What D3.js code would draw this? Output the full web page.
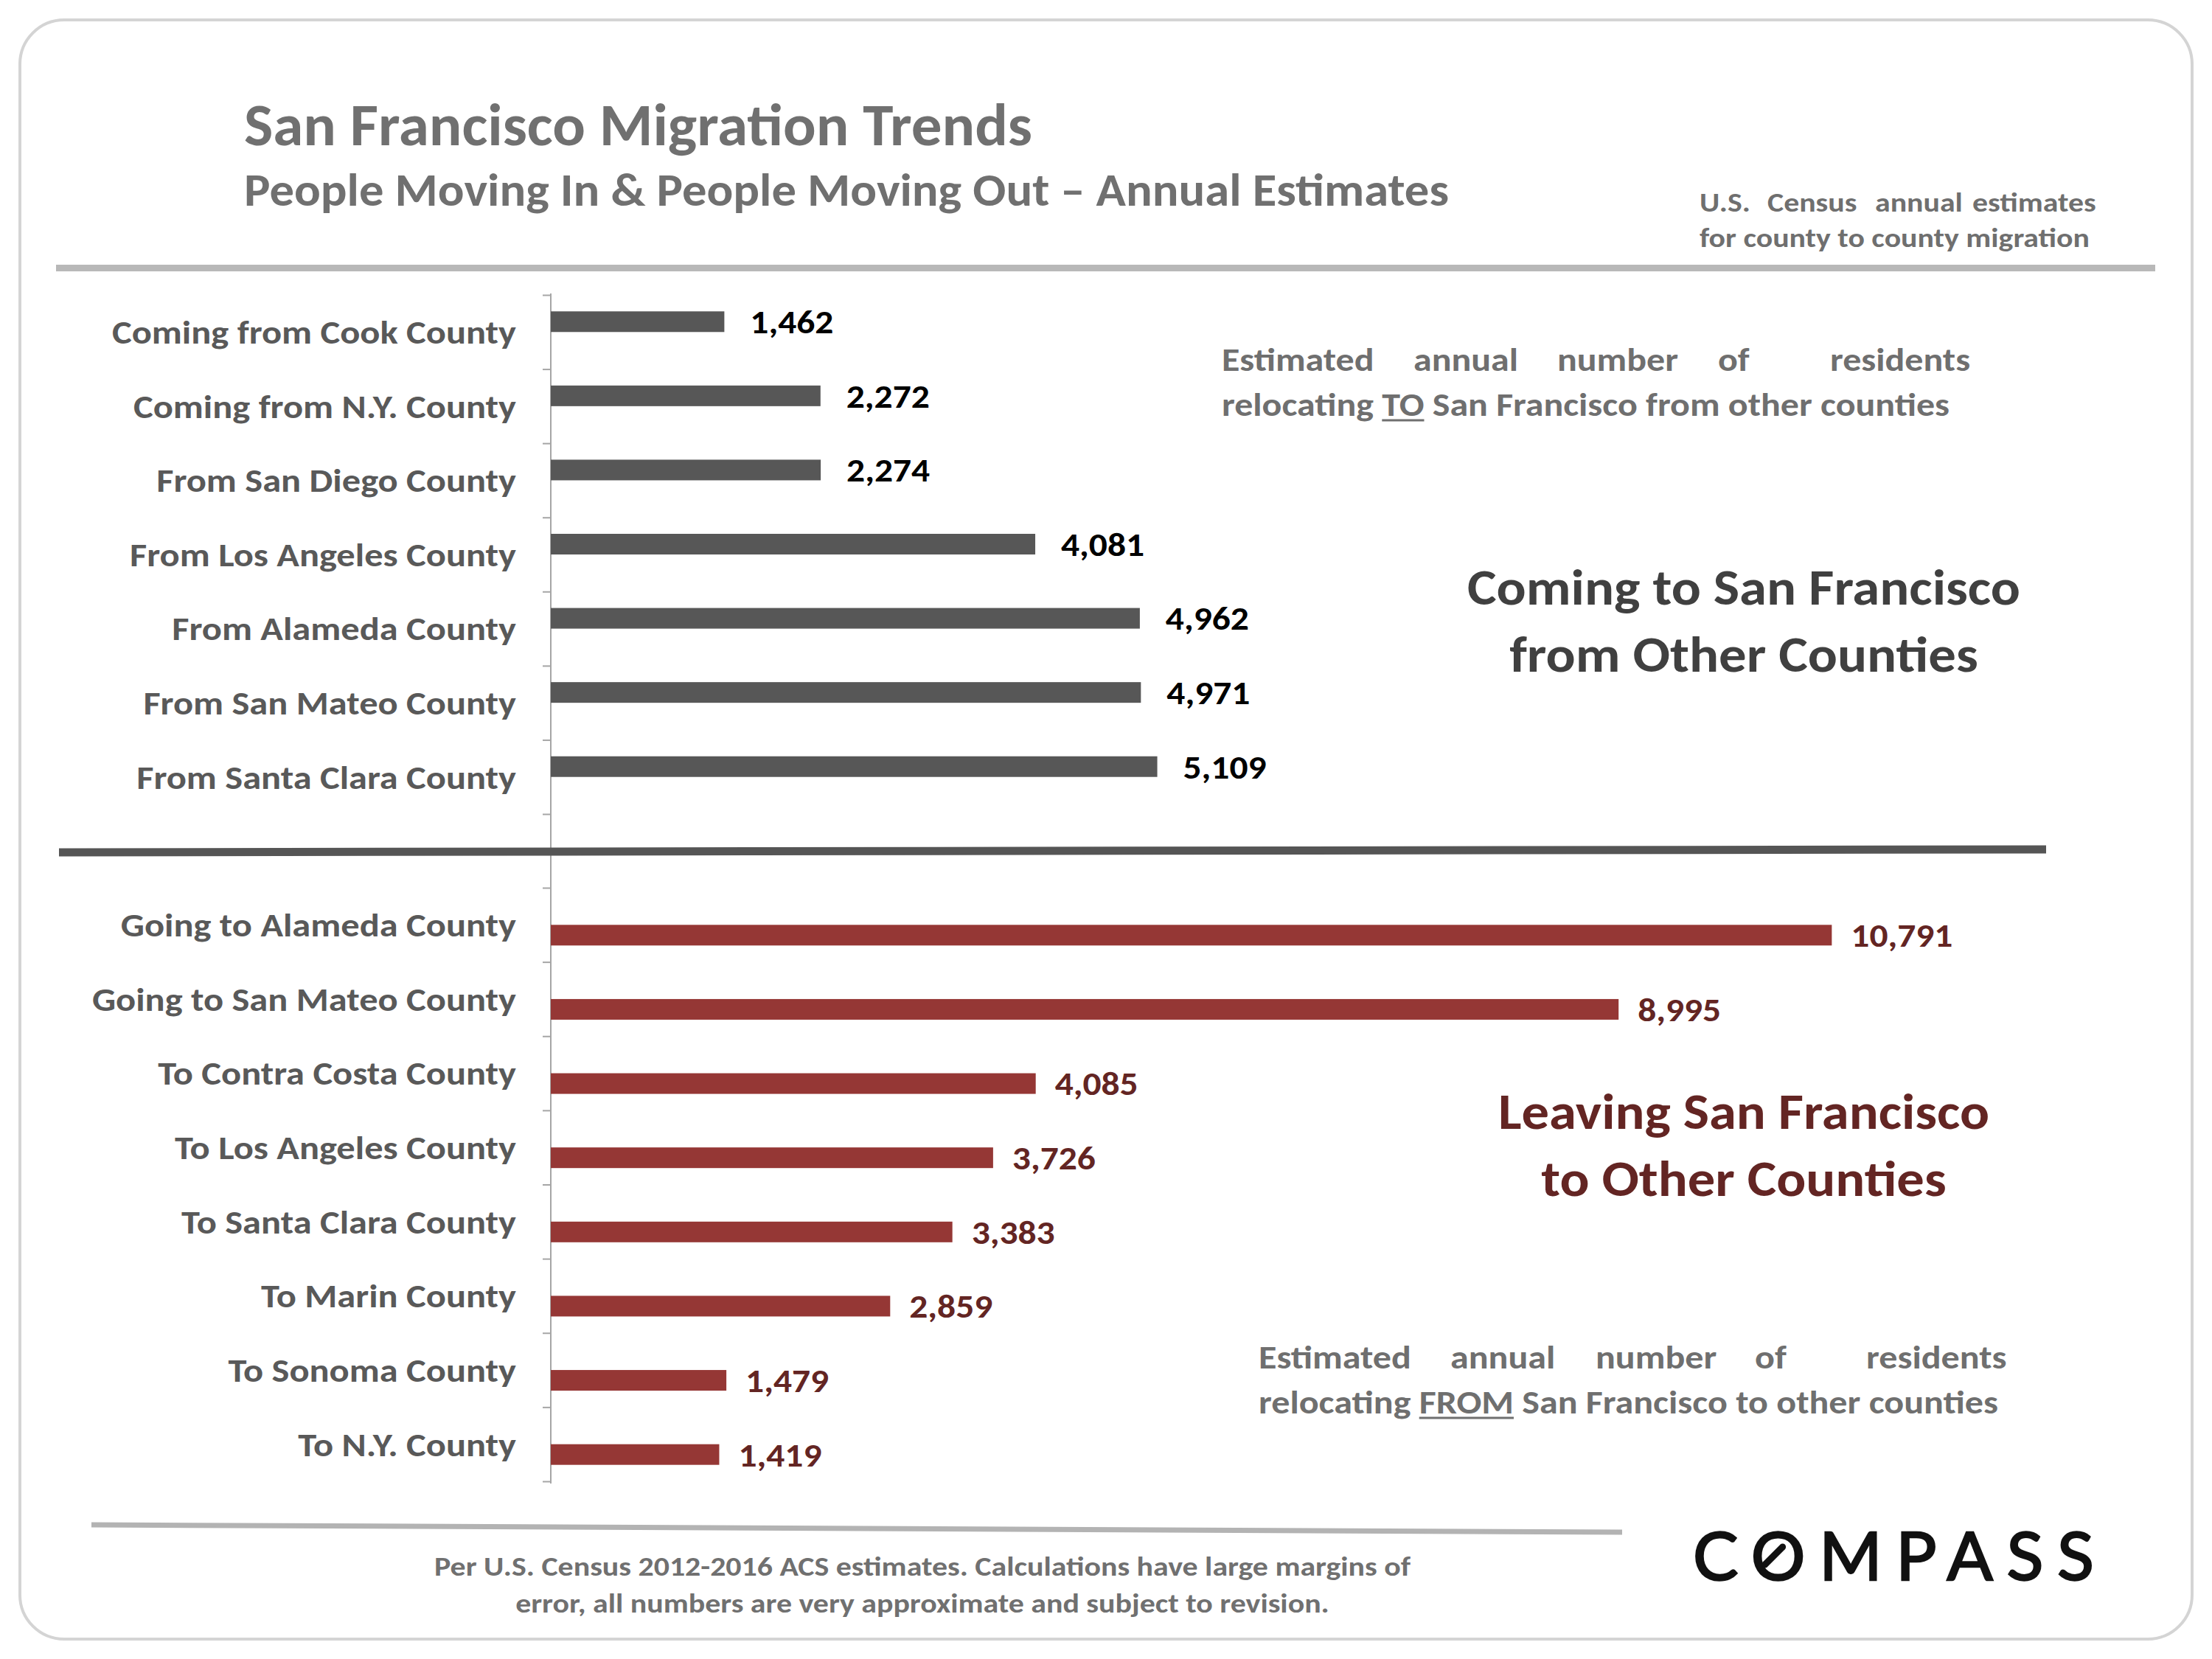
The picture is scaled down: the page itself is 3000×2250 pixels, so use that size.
<!DOCTYPE html>
<html><head><meta charset="utf-8">
<script src="https://cdn.jsdelivr.net/npm/d3@7"></script>
<style>html,body{margin:0;padding:0;background:#fff;} svg{display:block;}</style>
</head><body>
<svg id="c" width="3000" height="2250"></svg>
<script>
const categoriesIn = ["Coming from Cook County","Coming from N.Y. County","From San Diego County","From Los Angeles County","From Alameda County","From San Mateo County","From Santa Clara County"];
const valuesIn = [1462,2272,2274,4081,4962,4971,5109];
const categoriesOut = ["Going to Alameda County","Going to San Mateo County","To Contra Costa County","To Los Angeles County","To Santa Clara County","To Marin County","To Sonoma County","To N.Y. County"];
const valuesOut = [10791,8995,4085,3726,3383,2859,1479,1419];

const titleText = "San Francisco Migration Trends";
const subtitleText = "People Moving In & People Moving Out \u2013 Annual Estimates";
const noteWords = ["U.S.","Census","annual","estimates"];
const noteLine2 = "for county to county migration";
const annotWords = ["Estimated","annual","number","of","residents"];
const headerIn = ["Coming to San Francisco","from Other Counties"];
const headerOut = ["Leaving San Francisco","to Other Counties"];
const footerLines = ["Per U.S. Census 2012-2016 ACS estimates. Calculations have large margins of","error, all numbers are very approximate and subject to revision."];

const FONT = "Carlito, Lato, 'Open Sans', sans-serif";
const svg = d3.select("#c");
const fmt = d3.format(",");

function fitTo(sel, target){
  const w = sel.node().getComputedTextLength();
  sel.attr("textLength", target).attr("lengthAdjust","spacingAndGlyphs");
  return target / w;
}
function condense(sel, k){
  sel.each(function(){
    const w = this.getComputedTextLength();
    d3.select(this).attr("textLength", w*k).attr("lengthAdjust","spacingAndGlyphs");
  });
}

// frame
svg.append("rect").attr("x",27).attr("y",27).attr("width",2946).attr("height",2196)
  .attr("rx",60).attr("fill","#fff").attr("stroke","#d4d4d4").attr("stroke-width",4);

// title
const t1 = svg.append("text").attr("x",331).attr("y",197).text(titleText)
  .attr("font-family",FONT).attr("font-weight",700).attr("font-size",80).attr("fill","#707070");
fitTo(t1,1069);
const t2 = svg.append("text").attr("x",331).attr("y",279).text(subtitleText)
  .attr("font-family",FONT).attr("font-weight",700).attr("font-size",62).attr("fill","#707070");
fitTo(t2,1634);

// source note (justified)
const nl2 = svg.append("text").attr("x",2305).attr("y",335).text(noteLine2)
  .attr("font-family",FONT).attr("font-weight",700).attr("font-size",37).attr("fill","#6f6f6f");
const kNote = fitTo(nl2,529);
const noteX = [2305,2397,2543,2675];
svg.selectAll("text.note").data(noteWords).join("text").attr("class","note")
  .attr("x",(d,i)=>noteX[i]).attr("y",287).text(d=>d)
  .attr("font-family",FONT).attr("font-weight",700).attr("font-size",37).attr("fill","#6f6f6f")
  .call(condense,kNote);

// top rule
svg.append("rect").attr("x",76).attr("y",359).attr("width",2847).attr("height",9).attr("fill","#b8b8b8");

// scales
const x = d3.scaleLinear().domain([0,12000]).range([747,747+0.161*12000]);
const yIn = d3.scaleBand().domain(categoriesIn).range([400,1104]);
const yOut = d3.scaleBand().domain(categoriesOut).range([1204,2009]);
const barH = 28;

// axis line + ticks
svg.append("line").attr("x1",747).attr("x2",747).attr("y1",398).attr("y2",2012)
  .attr("stroke","#a6a6a6").attr("stroke-width",2);
const tIn = d3.scaleLinear().domain([0,categoriesIn.length]).range([400,1104]);
const tOut = d3.scaleLinear().domain([0,categoriesOut.length]).range([1204,2009]);
[[tIn,categoriesIn.length],[tOut,categoriesOut.length]].forEach(([s,n])=>{
  const g = svg.append("g").attr("transform","translate(747,0)")
    .call(d3.axisLeft(s).tickValues(d3.range(n+1)).tickFormat("").tickSize(11));
  g.select(".domain").remove();
  g.selectAll(".tick line").attr("stroke","#a6a6a6").attr("stroke-width",2);
});

// divider
svg.append("line").attr("x1",80).attr("y1",1156).attr("x2",2775).attr("y2",1152)
  .attr("stroke","#555555").attr("stroke-width",11);

// bars
const dataIn = categoriesIn.map((c,i)=>({c,v:valuesIn[i]}));
const dataOut = categoriesOut.map((c,i)=>({c,v:valuesOut[i]}));

svg.selectAll("rect.bin").data(dataIn).join("rect").attr("class","bin")
  .attr("x",x(0)).attr("y",d=>yIn(d.c)+yIn.bandwidth()/2-14-barH/2)
  .attr("width",d=>x(d.v)-x(0)).attr("height",barH).attr("fill","#575757");
svg.selectAll("rect.bout").data(dataOut).join("rect").attr("class","bout")
  .attr("x",x(0)).attr("y",d=>yOut(d.c)+yOut.bandwidth()/2+14-barH/2)
  .attr("width",d=>x(d.v)-x(0)).attr("height",barH).attr("fill","#953735");

// category labels
const labIn = svg.selectAll("text.lin").data(dataIn).join("text").attr("class","lin")
  .attr("x",700).attr("y",d=>yIn(d.c)+yIn.bandwidth()/2).attr("dy","0.36em")
  .attr("text-anchor","end").text(d=>d.c)
  .attr("font-family",FONT).attr("font-weight",700).attr("font-size",44).attr("fill","#595959");
const labOut = svg.selectAll("text.lout").data(dataOut).join("text").attr("class","lout")
  .attr("x",700).attr("y",d=>yOut(d.c)+yOut.bandwidth()/2).attr("dy","0.36em")
  .attr("text-anchor","end").text(d=>d.c)
  .attr("font-family",FONT).attr("font-weight",700).attr("font-size",44).attr("fill","#595959");
const kLab = 548 / labIn.nodes()[0].getComputedTextLength();
condense(labIn,kLab); condense(labOut,kLab);

// value labels
const vIn = svg.selectAll("text.vin").data(dataIn).join("text").attr("class","vin")
  .attr("x",d=>x(d.v)+35).attr("y",d=>yIn(d.c)+yIn.bandwidth()/2-14).attr("dy","0.36em")
  .text(d=>fmt(d.v))
  .attr("font-family",FONT).attr("font-weight",700).attr("font-size",44).attr("fill","#000");
const vOut = svg.selectAll("text.vout").data(dataOut).join("text").attr("class","vout")
  .attr("x",d=>x(d.v)+26).attr("y",d=>yOut(d.c)+yOut.bandwidth()/2+14).attr("dy","0.36em")
  .text(d=>fmt(d.v))
  .attr("font-family",FONT).attr("font-weight",700).attr("font-size",44).attr("fill","#632523");
const kVal = 113 / vIn.nodes()[0].getComputedTextLength();
condense(vIn,kVal); condense(vOut,kVal);

// annotations
function annotation(words, wordX, y1, y2, x0, pre, under, post, width2){
  const l2 = svg.append("text").attr("x",x0).attr("y",y2)
    .attr("font-family",FONT).attr("font-weight",700).attr("font-size",45).attr("fill","#6f6f6f");
  l2.append("tspan").text(pre);
  const u = l2.append("tspan").text(under);
  l2.append("tspan").text(post);
  const k = fitTo(l2,width2);
  svg.selectAll(null).data(words).join("text")
    .attr("x",(d,i)=>wordX[i]).attr("y",y1).text(d=>d)
    .attr("font-family",FONT).attr("font-weight",700).attr("font-size",45).attr("fill","#6f6f6f")
    .call(condense,k);
  const bb = u.node().getBBox();
  svg.append("line").attr("x1",bb.x).attr("x2",bb.x+bb.width).attr("y1",y2+6).attr("y2",y2+6)
    .attr("stroke","#6f6f6f").attr("stroke-width",3);
}
annotation(annotWords,[1657,1917,2112,2330,2482],503,564,1657,"relocating ","TO"," San Francisco from other counties",987);
annotation(annotWords,[1707,1967,2164,2380,2531],1856,1917,1707,"relocating ","FROM"," San Francisco to other counties",1003);

// section headers
function header(lines, y, fill, w1){
  const a = svg.append("text").attr("x",2365).attr("y",y[0]).attr("text-anchor","middle").text(lines[0])
    .attr("font-family",FONT).attr("font-weight",700).attr("font-size",68).attr("fill",fill);
  const k = fitTo(a,w1);
  svg.append("text").attr("x",2365).attr("y",y[1]).attr("text-anchor","middle").text(lines[1])
    .attr("font-family",FONT).attr("font-weight",700).attr("font-size",68).attr("fill",fill)
    .call(condense,k);
}
header(headerIn,[820,911],"#404040",750);
header(headerOut,[1531,1622],"#632523",666);

// bottom rule
svg.append("line").attr("x1",124).attr("y1",2068).attr("x2",2200).attr("y2",2078)
  .attr("stroke","#b3b3b3").attr("stroke-width",7);

// footer
const f1 = svg.append("text").attr("x",1251).attr("y",2137).attr("text-anchor","middle").text(footerLines[0])
  .attr("font-family",FONT).attr("font-weight",700).attr("font-size",36).attr("fill","#707070");
const kF = fitTo(f1,1324);
svg.append("text").attr("x",1251).attr("y",2187).attr("text-anchor","middle").text(footerLines[1])
  .attr("font-family",FONT).attr("font-weight",700).attr("font-size",36).attr("fill","#707070")
  .call(condense,kF);

// logo
const logo = svg.append("text").attr("x",2296).attr("y",2143).text("COMPASS")
  .attr("font-family","Lato, 'Open Sans', sans-serif").attr("font-weight",400).attr("font-size",92)
  .attr("fill","#111").attr("stroke","#111").attr("stroke-width",2.5);
logo.attr("textLength",544).attr("lengthAdjust","spacing");
const ob = logo.node().getExtentOfChar(1);
const ocx = ob.x + ob.width/2 - 6, ocy = 2143 - 33;
svg.append("line").attr("x1",ocx-12).attr("y1",ocy+12).attr("x2",ocx+12).attr("y2",ocy-12)
  .attr("stroke","#111").attr("stroke-width",9).attr("stroke-linecap","round");
</script>
</body></html>
